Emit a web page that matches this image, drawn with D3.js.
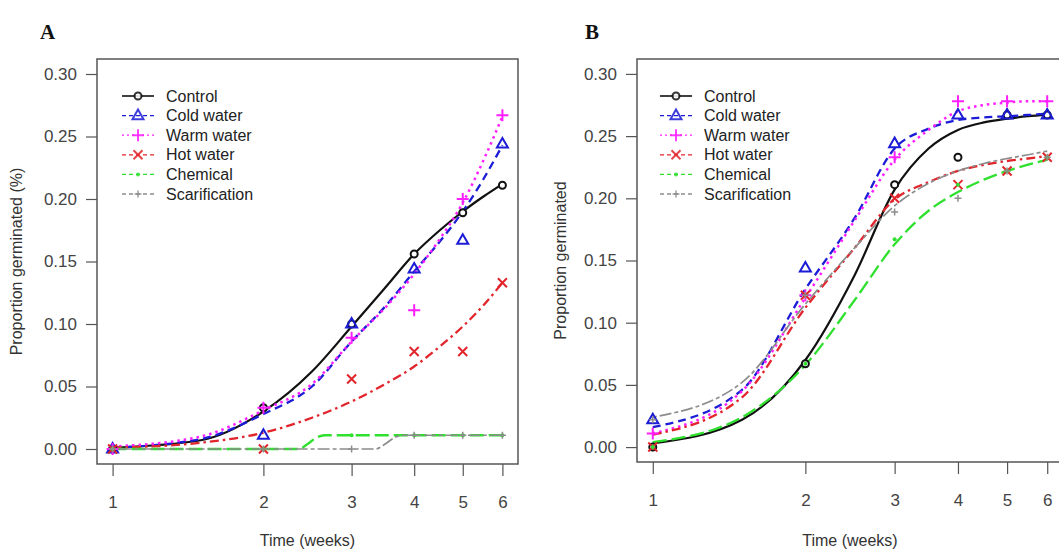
<!DOCTYPE html>
<html>
<head>
<meta charset="utf-8">
<script src="https://cdnjs.cloudflare.com/ajax/libs/d3/7.8.5/d3.min.js"></script>
<style>
  body { margin: 0; background: #fff; }
  svg { display: block; }
</style>
</head>
<body>
<div id="chart"></div>
<script>
// Data
const weeks = [1, 2, 3, 4, 5, 6];
const treatments = ["Control", "Cold water", "Warm water", "Hot water", "Chemical", "Scarification"];
const yTicks = [0, 0.05, 0.10, 0.15, 0.20, 0.25, 0.30];

// Panel A - observed proportions
const aControl = [0, 0.033, 0.100, 0.156, 0.189, 0.211];
const aCold    = [0, 0.011, 0.100, 0.144, 0.167, 0.244];
const aWarm    = [0, 0.033, 0.089, 0.111, 0.200, 0.267];
const aHot     = [0, 0,     0.056, 0.078, 0.078, 0.133];
const aChem    = [0, 0,     0.011, 0.011, 0.011, 0.011];
const aScar    = [0, 0,     0,     0.011, 0.011, 0.011];

// Panel A - fitted curves
const fitWeeks = [1, 1.5, 2, 2.5, 3, 3.5, 4, 4.5, 5, 5.5, 6];
const aFitControl = [0.001, 0.007, 0.030, 0.062, 0.098, 0.129, 0.156, 0.175, 0.190, 0.202, 0.212];
const aFitCold    = [0.001, 0.008, 0.028, 0.050, 0.086, 0.114, 0.142, 0.166, 0.190, 0.216, 0.243];
const aFitWarm    = [0.002, 0.010, 0.031, 0.052, 0.086, 0.113, 0.140, 0.168, 0.197, 0.231, 0.266];
const aFitHot     = [0.001, 0.005, 0.013, 0.025, 0.038, 0.052, 0.066, 0.082, 0.098, 0.115, 0.133];
const aChemFitWeeks = [1, 2, 2.35, 2.45, 2.55, 2.65, 3, 4, 5, 6];
const aFitChem      = [0, 0, 0, 0.004, 0.009, 0.011, 0.011, 0.011, 0.011, 0.011];
const aScarFitWeeks = [1, 2, 3, 3.35, 3.5, 3.65, 3.8, 4, 5, 6];
const aFitScar      = [0, 0, 0, 0, 0.004, 0.009, 0.011, 0.011, 0.011, 0.011];

// Panel B - observed proportions
const bControl = [0,     0.067, 0.211, 0.233, 0.267, 0.267];
const bCold    = [0.022, 0.144, 0.244, 0.267, 0.267, 0.267];
const bWarm    = [0.011, 0.122, 0.233, 0.278, 0.278, 0.278];
const bHot     = [0,     0.122, 0.200, 0.211, 0.222, 0.233];
const bChem    = [0,     0.067, 0.167, 0.211, 0.222, 0.233];
const bScar    = [0.022, 0.122, 0.189, 0.200, 0.222, 0.233];

// Panel B - fitted curves
const bFitControl = [0.003, 0.022, 0.070, 0.138, 0.207, 0.240, 0.255, 0.261, 0.264, 0.266, 0.267];
const bFitCold    = [0.016, 0.046, 0.127, 0.184, 0.240, 0.256, 0.263, 0.265, 0.266, 0.267, 0.268];
const bFitWarm    = [0.011, 0.045, 0.120, 0.182, 0.231, 0.255, 0.270, 0.275, 0.277, 0.278, 0.278];
const bFitHot     = [0.010, 0.040, 0.112, 0.160, 0.199, 0.213, 0.222, 0.227, 0.230, 0.232, 0.234];
const bFitChem    = [0.004, 0.024, 0.066, 0.118, 0.163, 0.190, 0.205, 0.215, 0.222, 0.227, 0.231];
const bFitScar    = [0.024, 0.052, 0.115, 0.160, 0.194, 0.212, 0.222, 0.228, 0.232, 0.235, 0.238];

const W = 1059, H = 553;

// line / marker look for each treatment
const styles = [
  { color: "#111111", dash: null,          width: 2.2, sym: "circle" },
  { color: "#1c1cd6", dash: "8,5",         width: 2.3, sym: "triangle" },
  { color: "#ff1eff", dash: "2.5,4",       width: 2.5, sym: "plus" },
  { color: "#e2252d", dash: "9,4,2.5,4",   width: 2.3, sym: "times" },
  { color: "#2fe02f", dash: "14,5",        width: 2.3, sym: "dot" },
  { color: "#8c8c8c", dash: "4,3,12,3",    width: 1.7, sym: "smallplus" }
];

function markerPath(sym) {
  switch (sym) {
    case "circle": return "M3.5,0A3.5,3.5,0,1,1,-3.5,0A3.5,3.5,0,1,1,3.5,0";
    case "triangle": return "M0,-6L5.5,3.6L-5.5,3.6Z";
    case "plus": return "M-6,0L6,0M0,-6L0,6";
    case "times": return "M-4.5,-4.5L4.5,4.5M-4.5,4.5L4.5,-4.5";
    case "dot": return "M2,0A2,2,0,1,1,-2,0A2,2,0,1,1,2,0";
    case "smallplus": return "M-3.5,0L3.5,0M0,-3.5L0,3.5";
  }
}

function drawMarker(g, sym, st, cx, cy) {
  g.append("path")
    .attr("d", markerPath(sym))
    .attr("transform", `translate(${cx},${cy})`)
    .attr("fill", sym === "dot" ? st.color : (sym === "circle" ? "#fff" : "none"))
    .attr("stroke", st.color)
    .attr("stroke-width", sym === "dot" ? 0 : (sym === "smallplus" ? 1.5 : 2));
}

const svg = d3.select("#chart").append("svg")
  .attr("width", W)
  .attr("height", H)
  .style("font-family", "'Liberation Sans', Arial, sans-serif");

function drawPanel(p) {
  const x = d3.scaleLog()
    .domain([Math.exp(-0.0717), Math.exp(Math.log(6) + 0.0717)])
    .range([p.left, p.right]);
  const y = d3.scaleLinear().domain([-0.012, 0.312]).range([p.bottom, p.top]);

  const g = svg.append("g");

  // panel letter
  g.append("text")
    .attr("x", p.letterX).attr("y", 39)
    .style("font-family", "'Liberation Serif', 'Times New Roman', serif")
    .style("font-weight", "bold").style("font-size", "21px")
    .attr("fill", "#111")
    .text(p.letter);

  // y axis
  const ya = g.append("g")
    .attr("transform", `translate(${p.left},0)`)
    .call(d3.axisLeft(y).tickValues(yTicks).tickFormat(d3.format(".2f")).tickSize(11).tickPadding(9));
  ya.select(".domain").remove();
  ya.selectAll("line").attr("stroke", "#555").attr("stroke-width", 1.2);
  ya.selectAll("text").style("font-size", "17px").attr("fill", "#444").style("font-family", "inherit");

  // x axis
  const xa = g.append("g")
    .attr("transform", `translate(0,${p.bottom})`)
    .call(d3.axisBottom(x).tickValues(weeks).tickFormat(d3.format("d")).tickSize(12).tickPadding(20));
  xa.select(".domain").remove();
  xa.selectAll("line").attr("stroke", "#555").attr("stroke-width", 1.2);
  xa.selectAll("text").style("font-size", "17px").attr("fill", "#444").style("font-family", "inherit");

  // frame
  g.append("rect")
    .attr("x", p.left).attr("y", p.top)
    .attr("width", p.right - p.left).attr("height", p.bottom - p.top)
    .attr("fill", "none").attr("stroke", "#555").attr("stroke-width", 1.5);

  // axis titles
  g.append("text")
    .attr("x", (p.left + p.right) / 2).attr("y", 546)
    .attr("text-anchor", "middle").style("font-size", "16px").attr("fill", "#333")
    .text("Time (weeks)");
  g.append("text")
    .attr("transform", `translate(${p.ylabX},${(p.top + p.bottom) / 2}) rotate(-90)`)
    .attr("text-anchor", "middle").style("font-size", "16px").attr("fill", "#333")
    .text(p.ylabel);

  // fitted curves
  const line = d3.line().x(d => x(d[0])).y(d => y(d[1])).curve(d3.curveMonotoneX);
  p.fits.forEach((f, i) => {
    const st = styles[i];
    g.append("path")
      .datum(f.xs.map((w, j) => [w, f.ys[j]]))
      .attr("d", line)
      .attr("fill", "none")
      .attr("stroke", st.color)
      .attr("stroke-width", st.width)
      .attr("stroke-dasharray", st.dash);
  });

  // observed points
  p.obs.forEach((vals, i) => {
    const st = styles[i];
    vals.forEach((v, j) => drawMarker(g, st.sym, st, x(weeks[j]), y(v)));
  });

  // legend
  treatments.forEach((name, i) => {
    const st = styles[i];
    const ly = 96 + i * 19.6;
    g.append("line")
      .attr("x1", p.legX).attr("x2", p.legX + 32)
      .attr("y1", ly).attr("y2", ly)
      .attr("stroke", st.color).attr("stroke-width", i === 0 ? 1.6 : 1.3)
      .attr("stroke-dasharray", i === 0 ? null : (i === 2 ? "2,3" : "4,3"));
    const lg = g.append("g").attr("opacity", 0.85);
    drawMarker(lg, st.sym, st, p.legX + 16, ly);
    g.append("text")
      .attr("x", p.legX + 44).attr("y", ly).attr("dy", "0.35em")
      .style("font-size", "16px").attr("fill", "#222")
      .text(name);
  });
}

drawPanel({
  letter: "A", letterX: 40,
  left: 97, right: 518, top: 59, bottom: 464,
  ylabX: 22, ylabel: "Proportion germinated (%)",
  legX: 122,
  obs: [aControl, aCold, aWarm, aHot, aChem, aScar],
  fits: [
    { xs: fitWeeks, ys: aFitControl },
    { xs: fitWeeks, ys: aFitCold },
    { xs: fitWeeks, ys: aFitWarm },
    { xs: fitWeeks, ys: aFitHot },
    { xs: aChemFitWeeks, ys: aFitChem },
    { xs: aScarFitWeeks, ys: aFitScar }
  ]
});

drawPanel({
  letter: "B", letterX: 585,
  left: 637, right: 1063, top: 59, bottom: 462,
  ylabX: 566, ylabel: "Proportion germinated",
  legX: 660,
  obs: [bControl, bCold, bWarm, bHot, bChem, bScar],
  fits: [
    { xs: fitWeeks, ys: bFitControl },
    { xs: fitWeeks, ys: bFitCold },
    { xs: fitWeeks, ys: bFitWarm },
    { xs: fitWeeks, ys: bFitHot },
    { xs: fitWeeks, ys: bFitChem },
    { xs: fitWeeks, ys: bFitScar }
  ]
});
</script>
</body>
</html>
